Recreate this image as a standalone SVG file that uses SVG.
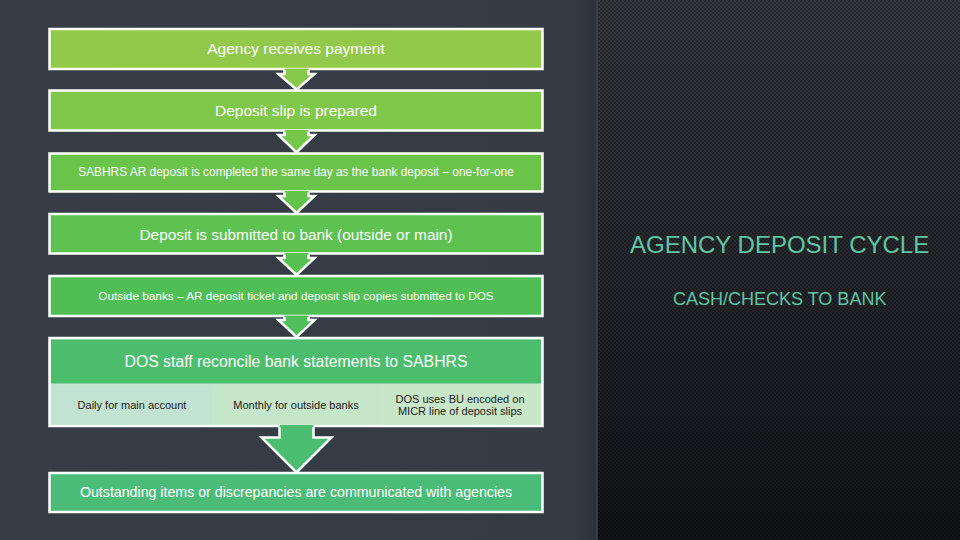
<svg xmlns="http://www.w3.org/2000/svg" width="960" height="540" viewBox="0 0 960 540">
<defs>
<style>
.box{stroke:#ffffff;stroke-width:2.5}
.t{font-family:"Liberation Sans",Arial,sans-serif;fill:#ffffff;text-anchor:middle}
.s{font-family:"Liberation Sans",Arial,sans-serif;fill:#222222;text-anchor:middle;font-size:11px}
.arr{stroke:#ffffff;stroke-width:2.5;stroke-linejoin:miter}
.title{font-family:"Liberation Sans",Arial,sans-serif;fill:#5ec6a4}
</style>
<linearGradient id="rg" x1="0" y1="0" x2="0" y2="1">
<stop offset="0" stop-color="#34373d"/>
<stop offset="0.5" stop-color="#25272c"/>
<stop offset="1" stop-color="#121317"/>
</linearGradient>
<linearGradient id="lg" x1="0" y1="0" x2="1" y2="0">
<stop offset="0" stop-color="#373d46"/>
<stop offset="0.96" stop-color="#353b44"/>
<stop offset="1" stop-color="#2c3139"/>
</linearGradient>
<pattern id="dots" width="4" height="4" patternUnits="userSpaceOnUse">
<circle cx="1" cy="1" r="1" fill="#000000" fill-opacity="0.35"/>
<circle cx="3" cy="3" r="1" fill="#000000" fill-opacity="0.35"/>
</pattern>
</defs>
<rect x="0" y="0" width="597" height="540" fill="url(#lg)"/>
<rect x="597" y="0" width="363" height="540" fill="url(#rg)"/>
<rect x="597" y="0" width="363" height="540" fill="url(#dots)"/>
<rect x="596" y="0" width="2" height="540" fill="#464b54" fill-opacity="0.6"/>

<g id="node1"><rect class="box" x="49.5" y="29" width="493" height="40" fill="#92c94b"/><text class="t" x="296" y="54" font-size="15.5">Agency receives payment</text></g>
<g id="node2"><rect class="box" x="49.5" y="90.5" width="493" height="40" fill="#7fc84a"/><text class="t" x="296" y="116" font-size="15.5">Deposit slip is prepared</text></g>
<g id="node3"><rect class="box" x="49.5" y="153.5" width="493" height="38" fill="#6bc44a"/><text class="t" x="296" y="176" font-size="11.9">SABHRS AR deposit is completed the same day as the bank deposit – one-for-one</text></g>
<g id="node4"><rect class="box" x="49.5" y="214" width="493" height="39.5" fill="#5dc24f"/><text class="t" x="296" y="239.5" font-size="15.4">Deposit is submitted to bank (outside or main)</text></g>
<g id="node5"><rect class="box" x="49.5" y="276" width="493" height="40" fill="#4fbf55"/><text class="t" x="296" y="300" font-size="11.8">Outside banks – AR deposit ticket and deposit slip copies submitted to DOS</text></g>
<g id="node6">
<rect class="box" x="49.5" y="338" width="493" height="88" fill="#c6e6cc"/>
<rect x="51" y="339.5" width="490" height="44" fill="#4bbd6c"/>
<rect x="51" y="384.5" width="161" height="40" fill="#c2e3d1"/>
<rect x="214" y="384.5" width="163" height="40" fill="#c6e6ca"/>
<rect x="379" y="384.5" width="162" height="40" fill="#c8e7c9"/>
<text class="t" x="296" y="366.5" font-size="15.8">DOS staff reconcile bank statements to SABHRS</text>
<text class="s" x="132" y="409">Daily for main account</text>
<text class="s" x="296" y="409">Monthly for outside banks</text>
<text class="s" x="460" y="403">DOS uses BU encoded on</text>
<text class="s" x="460" y="415">MICR line of deposit slips</text>
</g>
<g id="node7"><rect class="box" x="49.5" y="473" width="493" height="39" fill="#4bbb78"/><text class="t" x="296" y="497" font-size="14.2">Outstanding items or discrepancies are communicated with agencies</text></g>

<g id="connectors">
<g class="arr">
<polygon points="284.5,68.5 308.5,68.5 308.5,74 314.5,74 296.5,89.5 278.5,74 284.5,74" fill="#89c94a" stroke="none"/>
<polyline points="284.5,70 284.5,74 278.5,74 296.5,89.5 314.5,74 308.5,74 308.5,70" fill="none"/>
<polygon points="284.5,130 308.5,130 308.5,135 314.5,135 296.5,152.5 278.5,135 284.5,135" fill="#76c749" stroke="none"/>
<polyline points="284.5,131.5 284.5,135 278.5,135 296.5,152.5 314.5,135 308.5,135 308.5,131.5" fill="none"/>
<polygon points="284.5,191 308.5,191 308.5,196 314.5,196 296.5,213 278.5,196 284.5,196" fill="#64c34b" stroke="none"/>
<polyline points="284.5,192.5 284.5,196 278.5,196 296.5,213 314.5,196 308.5,196 308.5,192.5" fill="none"/>
<polygon points="284.5,253 308.5,253 308.5,258 314.5,258 296.5,275 278.5,258 284.5,258" fill="#57c150" stroke="none"/>
<polyline points="284.5,254.5 284.5,258 278.5,258 296.5,275 314.5,258 308.5,258 308.5,254.5" fill="none"/>
<polygon points="284.5,315.5 308.5,315.5 308.5,320 314.5,320 296.5,337 278.5,320 284.5,320" fill="#4ebf5a" stroke="none"/>
<polyline points="284.5,317 284.5,320 278.5,320 296.5,337 314.5,320 308.5,320 308.5,317" fill="none"/>
<polygon points="279.5,425 313.5,425 313.5,437.5 331.5,437.5 296.5,472.5 261.5,437.5 279.5,437.5" fill="#4bbd70" stroke="none"/>
<polyline points="279.5,427 279.5,437.5 261.5,437.5 296.5,472.5 331.5,437.5 313.5,437.5 313.5,427" fill="none"/>
</g>
</g>

<text class="title" x="630" y="253" font-size="24">AGENCY DEPOSIT CYCLE</text>
<text class="title" x="673" y="305" font-size="18">CASH/CHECKS TO BANK</text>
</svg>
